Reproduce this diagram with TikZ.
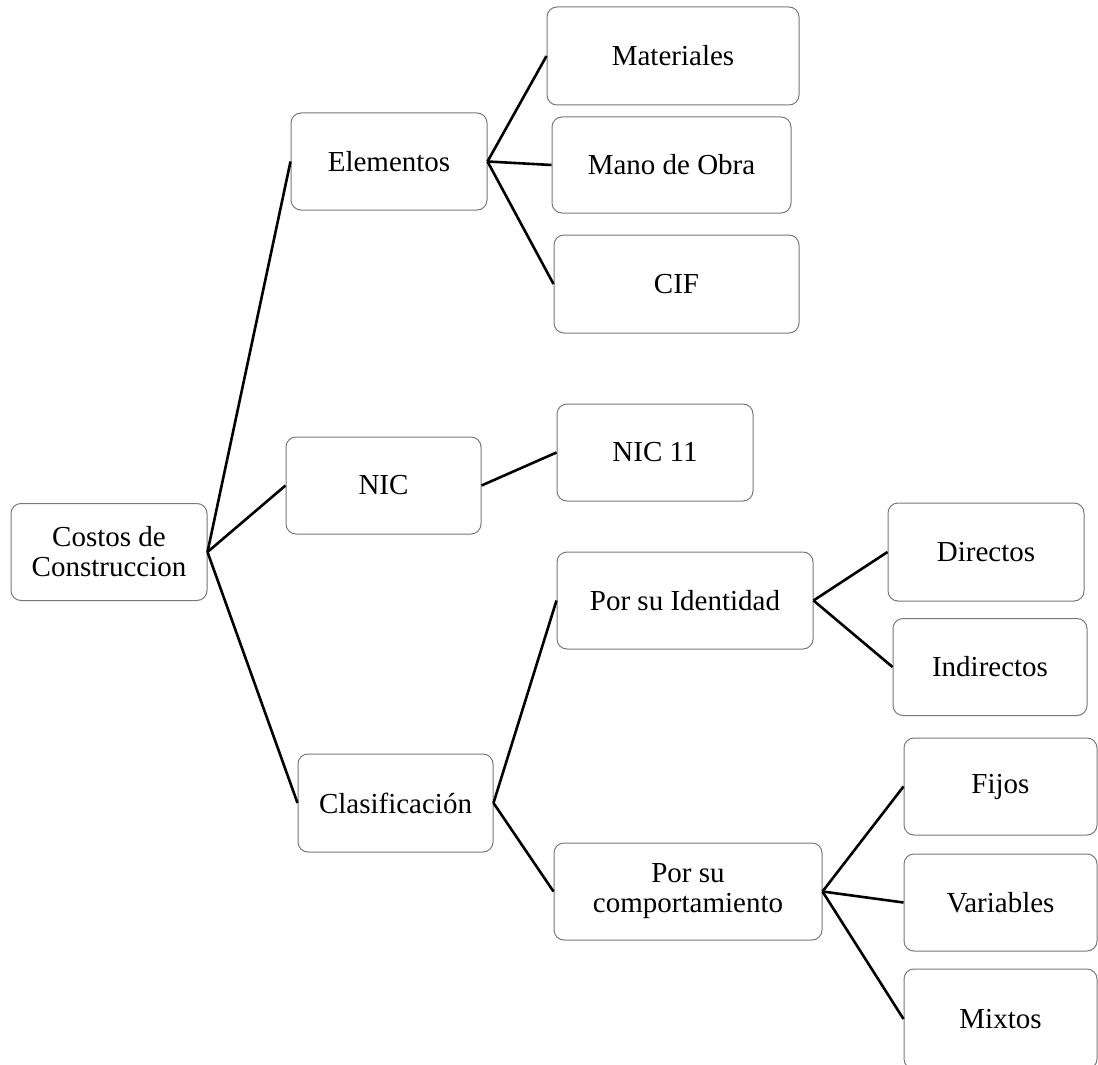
\documentclass[tikz,border=0pt]{standalone}
\usepackage{fontspec}
\setmainfont{Liberation Serif}
\usepackage{xcolor}
\usepackage{tikz}
\usetikzlibrary{positioning}

\definecolor{boxgray}{RGB}{120,120,120}

\begin{document}
\begin{tikzpicture}[x=0.5pt, y=-0.5pt,
  costbox/.style={draw=boxgray, line width=0.5pt, rounded corners=5pt,
    align=center, inner sep=2pt, minimum height=48.5pt,
    font=\fontsize{14.5}{15}\selectfont},
  branch/.style={line width=1.3pt, black}]
\useasboundingbox (0,0) rectangle (1098,1065);

% first level
\node[costbox, minimum width=98pt] (costos) at (109,552) {Costos de\\Construccion};
\node[costbox, minimum width=98pt] (elem) at (389,161.5) {Elementos};
\node[costbox, minimum width=97.5pt] (nic) at (383.5,485.5) {NIC};
\node[costbox, minimum width=97.5pt, minimum height=49pt] (clas) at (395.5,803) {Clasificación};

% second level
\node[costbox, minimum width=126pt, minimum height=49pt] (mat) at (673,56) {Materiales};
\node[costbox, minimum width=119.5pt, minimum height=48pt] (mano) at (671.5,165) {Mano de Obra};
\node[costbox, minimum width=122.5pt, minimum height=49pt] (cif) at (676.5,284) {CIF};
\node[costbox, minimum width=98pt] (nicxi) at (655,452.5) {NIC 11};
\node[costbox, minimum width=128pt] (ident) at (685,600.5) {Por su Identidad};
\node[costbox, minimum width=134pt] (comp) at (688,891.5) {Por su\\comportamiento};

% third level
\node[costbox, minimum width=98pt, minimum height=49pt] (dir) at (986,552) {Directos};
\node[costbox, minimum width=97pt] (indir) at (990,667) {Indirectos};
\node[costbox, minimum width=96.5pt] (fijos) at (1000.5,786.5) {Fijos};
\node[costbox, minimum width=96.5pt] (var) at (1000.5,902.5) {Variables};
\node[costbox, minimum width=96.5pt, minimum height=50pt] (mix) at (1000.5,1019) {Mixtos};

\draw[branch] (costos.east) -- (elem.west);
\draw[branch] (costos.east) -- (nic.west);
\draw[branch] (costos.east) -- (clas.west);
\draw[branch] (elem.east) -- (mat.west);
\draw[branch] (elem.east) -- (mano.west);
\draw[branch] (elem.east) -- (cif.west);
\draw[branch] (nic.east) -- (nicxi.west);
\draw[branch] (clas.east) -- (ident.west);
\draw[branch] (clas.east) -- (comp.west);
\draw[branch] (ident.east) -- (dir.west);
\draw[branch] (ident.east) -- (indir.west);
\draw[branch] (comp.east) -- (fijos.west);
\draw[branch] (comp.east) -- (var.west);
\draw[branch] (comp.east) -- (mix.west);
\end{tikzpicture}
\end{document}
